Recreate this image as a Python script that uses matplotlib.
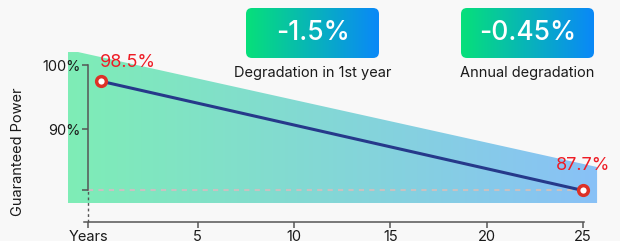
import numpy as np
import matplotlib
matplotlib.use("Agg")
import matplotlib.pyplot as plt
from matplotlib.colors import LinearSegmentedColormap
from matplotlib.patches import Polygon, FancyBboxPatch

plt.rcParams['font.family'] = ['Inter', 'DejaVu Sans']

# data (y = plotted height, labels = printed text)
years = [0, 25]
power = [97.45, 80.4]
point_labels = ["98.5%", "87.7%"]

xtick_pos = [-0.69, 5, 10, 15, 20, 25]
xtick_labels = ["Years", "5", "10", "15", "20", "25"]
ytick_pos = [100, 90, 80.4]
ytick_labels = ["100%", "90%", ""]

badge_values = ["-1.5%", "-0.45%"]
badge_captions = ["Degradation in 1st year", "Annual degradation"]

# decorative gradient band behind the line
band_x = [-1.73, -1.21, 25.74, 25.74, -1.73]
band_y = [102.03, 102.03, 84.06, 78.44, 78.44]

bg = '#f8f8f8'
fig = plt.figure(figsize=(6.2, 2.41), dpi=100, facecolor=bg)
ax = fig.add_axes([0, 0, 1, 1], facecolor=bg)

# gradient band
band_cmap = LinearSegmentedColormap.from_list('band', ['#7eedb6', '#89c1f7'])
grad = np.linspace(0, 1, 256).reshape(1, -1)
im = ax.imshow(grad, cmap=band_cmap, aspect='auto', zorder=1,
               extent=(min(band_x), max(band_x), min(band_y), max(band_y)))
poly = Polygon(list(zip(band_x, band_y)), closed=True, transform=ax.transData)
im.set_clip_path(poly)

# reference dashed line and dotted drop to the axis
ax.hlines(power[-1], xtick_pos[0], years[-1], colors='#c9c1c1', lw=1.5,
          linestyles=(0, (2.5, 2.5)), zorder=2)
ax.vlines(xtick_pos[0], 75.47, power[-1], colors='#555555', lw=1,
          linestyles=(0, (2, 2)), zorder=2)

# degradation line
ax.plot(years, power, color='#26398a', lw=2.2, zorder=3, solid_capstyle='round')
ax.plot(years, power, 'o', ms=7, mfc='white', mec='#dd3127', mew=2.5, zorder=4)

ax.annotate(point_labels[0], (years[0], power[0]), xytext=(-1, 10),
            textcoords='offset points', ha='left', va='baseline',
            fontsize=13, color='#ee1c25')
ax.annotate(point_labels[1], (years[1], power[1]), xytext=(0, 14.5),
            textcoords='offset points', ha='center', va='baseline',
            fontsize=13, color='#ee1c25')

# axes
for s in ['top', 'right']:
    ax.spines[s].set_visible(False)
ax.spines['left'].set_position(('data', xtick_pos[0]))
ax.spines['left'].set_bounds(power[-1], 100)
ax.spines['bottom'].set_position(('data', 75.47))
ax.spines['bottom'].set_bounds(-0.9, 25.05)
for s in ['left', 'bottom']:
    ax.spines[s].set_color('#555555')
    ax.spines[s].set_linewidth(1.1)
    ax.spines[s].set_zorder(2.5)

ax.set_xticks(xtick_pos, xtick_labels)
ax.set_yticks(ytick_pos, ytick_labels)
ax.tick_params(axis='both', colors='#555555', labelcolor='#1a1a1a',
               labelsize=10.5, length=4.5, width=1.1)
ax.tick_params(axis='x', pad=1.5)
ax.tick_params(axis='y', pad=1)
ax.set_ylabel("Guaranteed Power", fontsize=10.5, color='#1a1a1a')
ax.yaxis.set_label_coords(25 / 620, 1 - 152 / 241)

# gradient badges
badge_cmap = LinearSegmentedColormap.from_list('badge', ['#06e07a', '#0a88f8'])
badge_x = [246 / 620, 461 / 620]
badge_w = 133 / 620
badge_y0, badge_y1 = 1 - 58 / 241, 1 - 8 / 241
for bx, val, cap in zip(badge_x, badge_values, badge_captions):
    bim = ax.imshow(grad, cmap=badge_cmap, aspect='auto', zorder=5,
                    extent=(bx, bx + badge_w, badge_y0, badge_y1),
                    transform=ax.transAxes)
    box = FancyBboxPatch((bx, badge_y0), badge_w, badge_y1 - badge_y0,
                         boxstyle="round,pad=0,rounding_size=0.0097",
                         mutation_aspect=620 / 241, transform=ax.transAxes)
    bim.set_clip_path(box)
    ax.text(bx + badge_w / 2, (badge_y0 + badge_y1) / 2, val,
            transform=ax.transAxes, ha='center', va='center',
            fontsize=19, fontweight='medium', color='white', zorder=6)
    ax.text(bx + badge_w / 2, 1 - 73 / 241, cap, transform=ax.transAxes,
            ha='center', va='center', fontsize=10.5, color='#1a1a1a')

ax.set_xlim(-5.26, 26.93)
ax.set_ylim(72.5, 110.16)

fig.savefig('out.png', dpi=100, facecolor=bg)
